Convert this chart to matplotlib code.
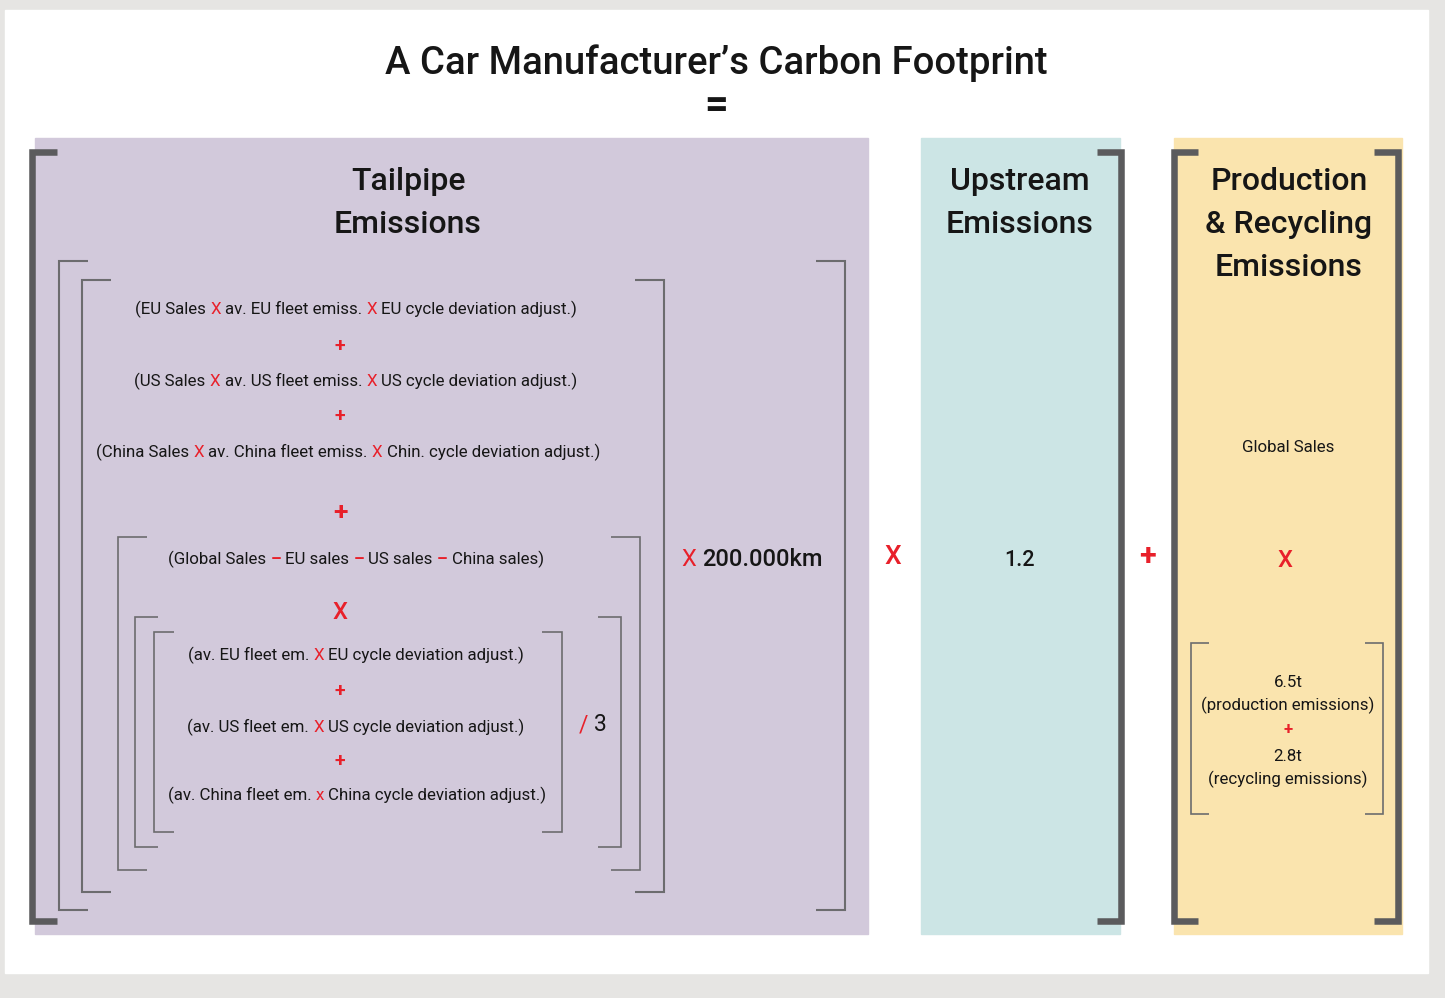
import matplotlib
matplotlib.use("Agg")
import matplotlib.pyplot as plt
from matplotlib.patches import Rectangle

# --- content -------------------------------------------------------------
TITLE = "A Car Manufacturer\u2019s Carbon Footprint"
HEADINGS = [["Tailpipe", "Emissions"], ["Upstream", "Emissions"],
            ["Production", "& Recycling", "Emissions"]]

REGION_TERMS = [
    ["(EU Sales", "av. EU fleet emiss.", "EU cycle deviation adjust.)"],
    ["(US Sales", "av. US fleet emiss.", "US cycle deviation adjust.)"],
    ["(China Sales", "av. China fleet emiss.", "Chin. cycle deviation adjust.)"],
]
REST_TERMS = ["(Global Sales", "EU sales", "US sales", "China sales)"]
AVG_TERMS = [
    ["(av. EU fleet em.", "EU cycle deviation adjust.)"],
    ["(av. US fleet em.", "US cycle deviation adjust.)"],
    ["(av. China fleet em.", "China cycle deviation adjust.)"],
]
AVG_OPS = ["X", "X", "x"]
DIVISOR = "3"
DISTANCE = "200.000km"
UPSTREAM_FACTOR = "1.2"
GLOBAL_SALES = "Global Sales"
PRODUCTION = ["6.5t", "(production emissions)"]
RECYCLING = ["2.8t", "(recycling emissions)"]

INK = "#161616"
RED = "#e8202a"
DARK = "#5b5b5d"
THIN = "#6c6c6e"
FONT = ["Roboto", "DejaVu Sans"]

W, H = 1445, 998
fig = plt.figure(figsize=(W / 100, H / 100), dpi=100)
fig.patch.set_facecolor("#e6e5e3")
ax = fig.add_axes([0, 0, 1, 1])
ax.set_xlim(0, W)
ax.set_ylim(H, 0)
ax.axis("off")
renderer = fig.canvas.get_renderer()


def rich(x, y, segs, size, weight="normal", gap=0.25):
    # y is the visual centre of capitals; segments are separated by one space
    em = size * 100 / 72
    base = y + 0.355 * em
    items = []
    for s, c, *w in segs:
        t = ax.text(x, base, s, color=c, fontsize=size,
                    fontweight=w[0] if w else weight,
                    ha="left", va="baseline", family=FONT)
        items.append((t, t.get_window_extent(renderer).width))
    sp = gap * em
    total = sum(w for _, w in items) + sp * (len(items) - 1)
    cx = x - total / 2
    for t, w in items:
        t.set_x(cx)
        cx += w + sp


def join(terms, op, op_weight="normal"):
    segs = []
    for i, t in enumerate(terms):
        if i:
            segs.append((op, RED, op_weight))
        segs.append((t, INK))
    return segs


def bracket(x, y0, y1, serif, side, lw, color):
    ax.plot([x + side * serif, x, x, x + side * serif], [y0, y0, y1, y1],
            lw=lw, color=color, solid_joinstyle="miter", solid_capstyle="butt")


# panels
ax.add_patch(Rectangle((5, 10), 1423, 963, color="white", zorder=0))
ax.add_patch(Rectangle((35, 138), 833, 796, color="#d2c9db", zorder=0))
ax.add_patch(Rectangle((921, 138), 199, 796, color="#cce5e5", zorder=0))
ax.add_patch(Rectangle((1174, 138), 228, 796, color="#fae4ae", zorder=0))

# title
rich(716, 60, [(TITLE, INK)], 27.5, "medium")
rich(716, 103, [("=", INK)], 30, "bold")

# headings
for cx, lines in zip([408, 1020, 1289], HEADINGS):
    for i, line in enumerate(lines):
        rich(cx, 179 + 43 * i, [(line, INK)], 23, "medium")

# thick outer brackets
bracket(32, 152, 921, 25, 1, 4.7, DARK)
bracket(1121, 152, 921, 24, -1, 4.7, DARK)
bracket(1174, 152, 921, 24, 1, 4.7, DARK)
bracket(1398, 152, 921, 24, -1, 4.7, DARK)

# thin brackets inside tailpipe box
for xl, xr, y0, y1, s, lw in [(59, 845, 261, 910, 29, 1.5),
                              (82, 664, 280, 892, 29, 1.5),
                              (118, 640, 537, 870, 29, 1.2),
                              (135, 621, 617, 847, 23, 1.2),
                              (154, 562, 632, 832, 20, 1.2),
                              (1191, 1383, 643, 814, 18, 1.2)]:
    bracket(xl, y0, y1, s, 1, lw, THIN)
    bracket(xr, y0, y1, s, -1, lw, THIN)

# tailpipe formula
for (cx, cy), terms in zip([(356, 308), (356, 380), (348, 451)], REGION_TERMS):
    rich(cx, cy, join(terms, "X"), 12.2)
for cy in (344, 414):
    rich(340, cy, [("+", RED)], 14, "bold")
rich(340, 511, [("+", RED)], 19, "bold")
rich(356, 558, join(REST_TERMS, "\u2013", "bold"), 12.2)
rich(340, 611, [("X", RED)], 17, "medium")
for (cx, cy), terms, op in zip([(356, 654), (356, 726), (357, 794)], AVG_TERMS, AVG_OPS):
    rich(cx, cy, join(terms, op), 12.2)
for cy in (689, 759):
    rich(340, cy, [("+", RED)], 14, "bold")
rich(593, 723, [("/", RED), (DIVISOR, INK)], 16.5)
rich(752, 558, [("X", RED, "normal"), (DISTANCE, INK)], 17, "medium")

# operators between boxes and upstream factor
rich(893, 555, [("X", RED)], 19, "medium")
rich(1020, 558, [(UPSTREAM_FACTOR, INK)], 15.5, "medium")
rich(1147, 554, [("+", RED)], 22, "bold")

# production & recycling
rich(1288, 446, [(GLOBAL_SALES, INK)], 12.2)
rich(1285, 559, [("X", RED)], 17, "medium")
rich(1288, 681, [(PRODUCTION[0], INK)], 12.2)
rich(1288, 704, [(PRODUCTION[1], INK)], 12.2)
rich(1288, 728, [("+", RED)], 12, "bold")
rich(1288, 755, [(RECYCLING[0], INK)], 12.2)
rich(1288, 778, [(RECYCLING[1], INK)], 12.2)

fig.savefig("out.png", dpi=100, facecolor=fig.get_facecolor())
